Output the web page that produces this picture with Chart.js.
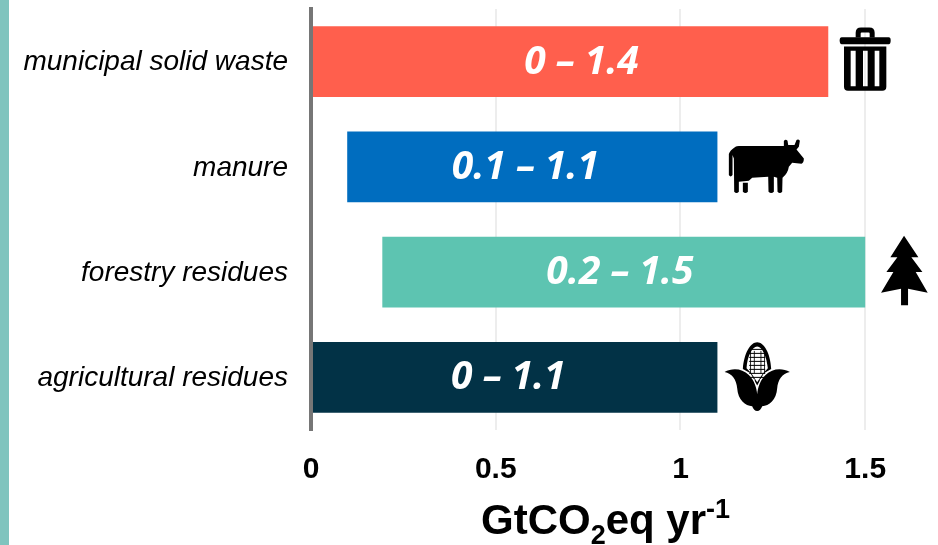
<!DOCTYPE html>
<html>
<head>
<meta charset="utf-8">
<script src="https://cdn.jsdelivr.net/npm/chart.js@4"></script>
<style>
html,body{margin:0;padding:0;background:#fff;overflow:hidden}
#wrap{position:relative;width:938px;height:545px}
#side{position:absolute;left:0;top:0;width:9px;height:545px;background:#7FC4BE}
#title{position:absolute;left:481px;top:495px;font:bold 42px "Liberation Sans",Arial,sans-serif;color:#000;white-space:nowrap;line-height:50px}
#title sub,#title sup{font-size:27px;line-height:0}
#title sub{vertical-align:-10px}
#title sup{vertical-align:16px}
canvas{position:absolute;left:0;top:0}
</style>
</head>
<body>
<div id="wrap">
<canvas id="c" width="938" height="545"></canvas>
<div id="side"></div>
<div id="title">GtCO<sub>2</sub>eq yr<sup>-1</sup></div>
</div>
<script>
const categories = ["municipal solid waste","manure","forestry residues","agricultural residues"];
const lowValues = [0,0.098,0.193,0];
const highValues = [1.4,1.1,1.5,1.1];
const rangeLabels = ["0 \u2013 1.4","0.1 \u2013 1.1","0.2 \u2013 1.5","0 \u2013 1.1"];
const labelCentres = [0.732,0.58,0.836,0.534];
const barColours = ["#FF5F4D","#006DBF","#5DC4B1","#023246"];
const tickValues = [0,0.5,1,1.5];

const ICONS = [
  {dx:-107.6,dy:-51.5,draw(c){
    c.fill(new Path2D("M405,82 V68 Q405,52 421,52 H446 Q462,52 462,68 V82 H447 V70 Q447,67 444,67 H423 Q420,67 420,70 V82 Z"));
    c.fill(new Path2D("M363,81 H504 Q510,81 510,91 Q510,102 504,102 H363 Q357,102 357,91 Q357,81 363,81 Z"));
    c.fill(new Path2D("M370,109 H497 V230 Q497,242 485,242 H382 Q370,242 370,230 Z M390,122 V228 H405 V122 Z M427,122 V228 H441 V122 Z M462,122 V228 H476 V122 Z"),"evenodd");
  }},
  {dx:3.1,dy:-156.8,draw(c){
    c.fill(new Path2D("M25,495 V432 Q27,422 45,410 Q48,408 55,408 L190,408 L190,393 Q195,386 201,392 L203,405 L222,405 L228,390 Q233,385 238,392 L235,410 L228,418 L250,445 Q250,458 243,461 L215,458 L205,470 Q202,490 186,503 L185,545 Q178,553 171,545 L170,503 L160,500 L160,545 Q152,553 144,545 L143,500 L95,503 L85,512 L55,515 L55,545 Q48,553 41,545 L40,445 L36,435 L36,495 Q30,503 25,495 Z"));
    c.fill(new Path2D("M67,518 H82 V545 Q75,553 67,545 Z"));
  }},
  {dx:-164.5,dy:-47.5,draw(c){
    c.fill(new Path2D("M610,33 L653,98 L632,98 L665,142 L645,142 L681,204 L622,192 L622,242 L601,242 L601,192 L541,204 L578,142 L557,142 L590,98 L569,98 Z"));
  }},
  {dx:-16.9,dy:-152.5,draw(c){
    c.fill(new Path2D("M127,432 C130,385 150,352 170,352 C190,352 210,385 212,432 L190,445 L170,482 L150,445 Z"));
    c.fillStyle="#fff";
    c.fill(new Path2D("M138,430 C140,395 155,365 170,365 C185,365 198,395 202,430 L187,446 L170,472 L153,446 Z"));
    c.fillStyle="#000";
    for(const x of [149,160,180,191]) c.fillRect(x,378,2.5,68);
    for(let y=372;y<=462;y+=12) c.fillRect(146,y,48,3);
    c.fillStyle="#fff";
    c.fill(new Path2D("M120,425 L127,372 L135,345 H120 Z M220,425 L212,372 L205,345 H220 Z"));
    c.fillRect(138,462,24,12);c.fillRect(178,462,24,12);
    c.fillStyle="#000";
    c.fill(new Path2D("M72,441 C95,428 125,430 145,450 C160,465 168,485 170,508 C172,485 180,465 195,450 C215,430 245,428 268,441 C245,445 232,465 230,490 C228,525 205,543 185,544 Q180,558 170,558 Q160,558 155,544 C135,543 112,525 110,490 C108,465 95,445 72,441 Z"));
  }}
];

const extras = {
  id:"extras",
  afterDatasetsDraw(chart){
    const c = chart.ctx, xs = chart.scales.x, ys = chart.scales.y;
    c.save();
    c.font = 'italic bold 39px "Open Sans",sans-serif';
    c.fillStyle = "#fff";
    c.textAlign = "center";
    c.textBaseline = "middle";
    rangeLabels.forEach((t,i)=>c.fillText(t,xs.getPixelForValue(labelCentres[i]),ys.getPixelForValue(i)+1));
    c.fillStyle = "#000";
    ICONS.forEach((ic,i)=>{
      c.save();
      c.translate(xs.getPixelForValue(highValues[i])+ic.dx,ys.getPixelForValue(i)+ic.dy);
      c.scale(1/3,1/3);
      ic.draw(c);
      c.restore();
    });
    c.restore();
  }
};

new Chart(document.getElementById("c"),{
  type:"bar",
  plugins:[extras],
  data:{
    labels:categories,
    datasets:[{
      data:categories.map((_,i)=>[lowValues[i],highValues[i]]),
      backgroundColor:barColours,
      borderWidth:0,
      barPercentage:0.674,
      categoryPercentage:1
    }]
  },
  options:{
    indexAxis:"y",
    responsive:false,
    animation:false,
    layout:{padding:{top:9,right:0,bottom:0,left:0}},
    plugins:{legend:{display:false},tooltip:{enabled:false},title:{display:false}},
    scales:{
      x:{
        type:"linear",min:0,max:1.697,
        afterBuildTicks(a){a.ticks=tickValues.map(v=>({value:v}));},
        afterFit(a){a.height=115;a.paddingTop=0;a.paddingBottom=0;},
        grid:{drawTicks:false,lineWidth:2,color:c=>c.tick&&c.tick.value===0?"rgba(0,0,0,0)":"#EDEDED"},
        border:{display:false},
        ticks:{maxRotation:0,padding:22,color:"#000",font:{family:'"Liberation Sans",Arial,sans-serif',size:30,weight:"bold"},callback:v=>String(v)}
      },
      y:{
        type:"category",
        afterFit(a){a.width=311;a.paddingTop=0;a.paddingBottom=0;},
        grid:{display:false,drawTicks:false},
        border:{display:true,color:"#767676",width:4,z:1},
        ticks:{padding:23,labelOffset:1,color:"#000",font:{family:'"Liberation Sans",Arial,sans-serif',size:28,style:"italic"}}
      }
    }
  }
});
</script>
</body>
</html>
